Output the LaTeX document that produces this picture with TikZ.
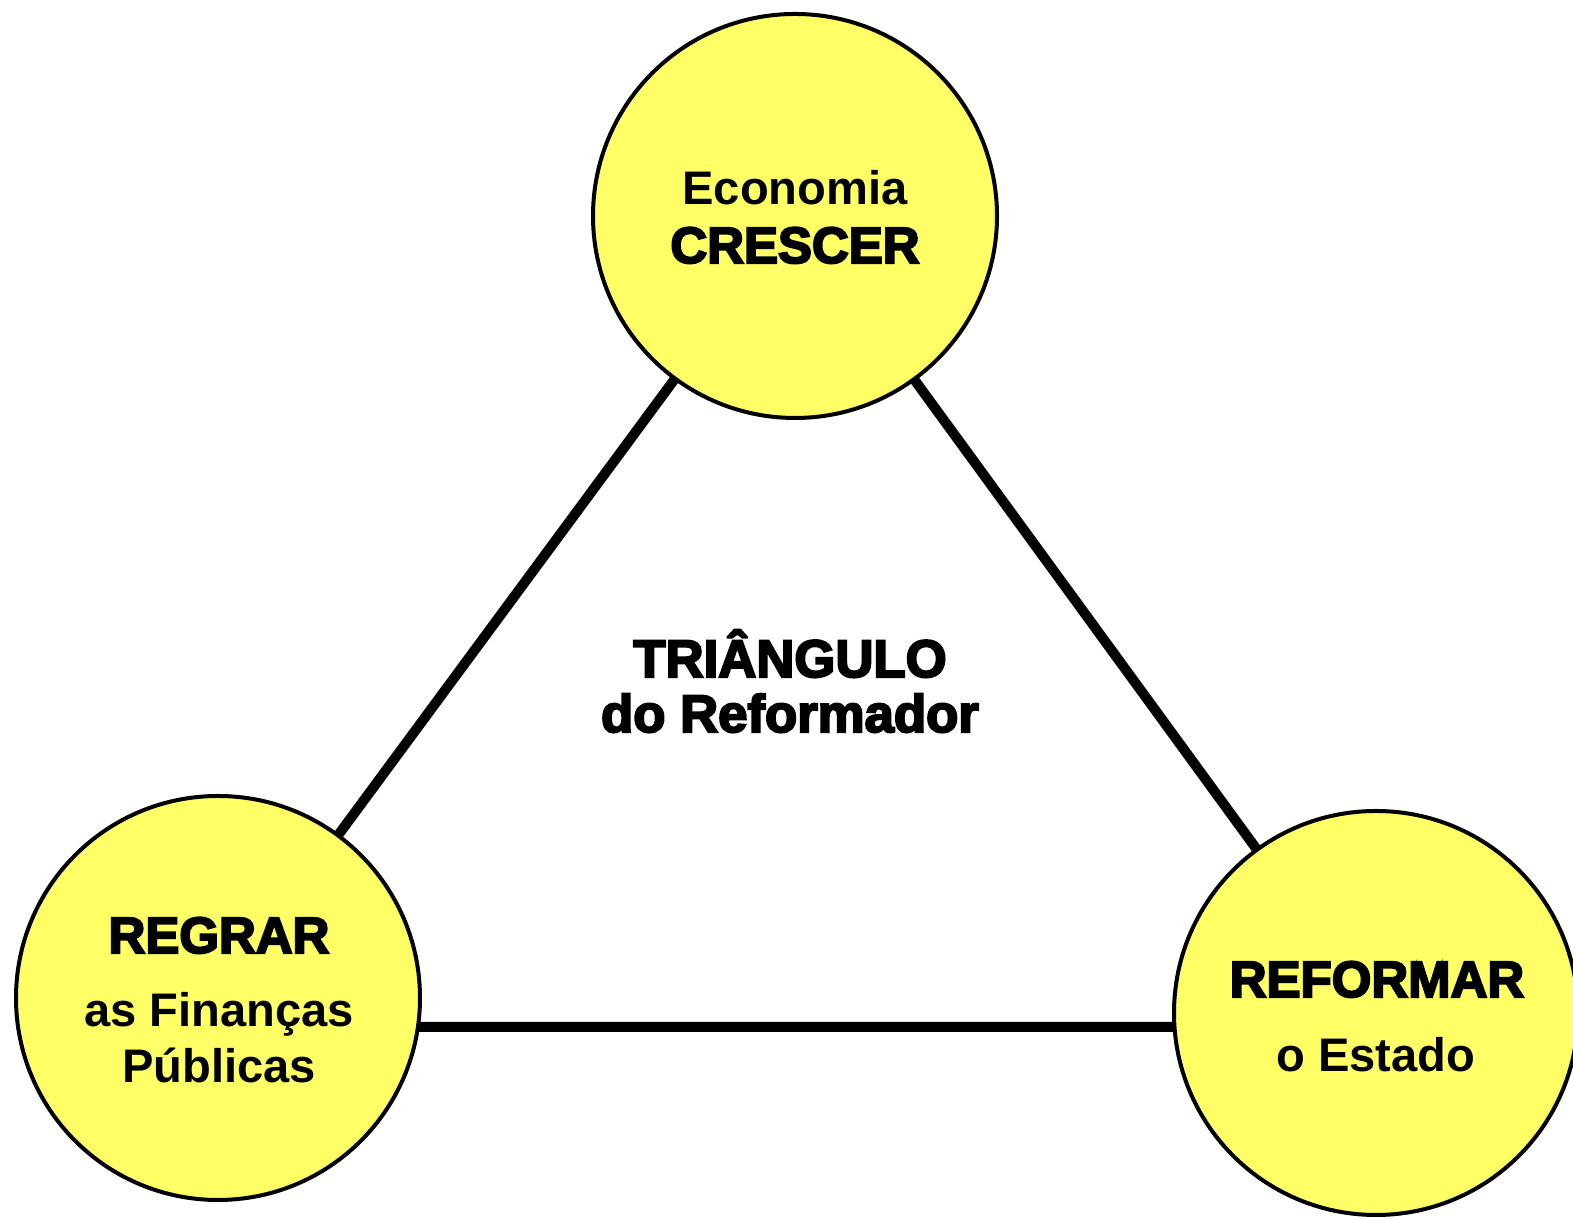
\documentclass[tikz,border=0pt]{standalone}
\usepackage{fontspec}
\setmainfont{Liberation Sans}
\newfontfamily\heavyfont[FakeBold=4]{Liberation Sans Bold}
\usetikzlibrary{backgrounds}
\definecolor{pillyellow}{RGB}{255,255,102}

\begin{document}
\begin{tikzpicture}[
    pillar/.style={circle, draw, line width=0.04cm, fill=pillyellow, minimum size=4.04cm, inner sep=0pt},
    link/.style={line width=0.1cm},
    heavy/.style={anchor=base, font=\heavyfont\fontsize{14.5pt}{16pt}\selectfont},
    plain/.style={anchor=base, font=\bfseries\fontsize{13.4pt}{15pt}\selectfont}
]
    \useasboundingbox (0,0) rectangle (15.73,12.19);
    \clip (0,0) rectangle (15.73,12.19);

    % Pillars
    \node[pillar] (crescer) at (7.95,10.03) {};
    \node[pillar] (regrar) at (2.18,2.21) {};
    \node[pillar] (reformar) at (13.76,2.06) {};

    % Sides of the triangle
    \begin{scope}[on background layer]
        \draw[link] (crescer.center) -- (regrar.center);
        \draw[link] (crescer.center) -- (reformar.center);
        \draw[link] ([yshift=-0.29cm]regrar.center) -- ([yshift=-0.14cm]reformar.center);
    \end{scope}

    % Labels
    \node[plain] (economia) at (7.95,10.14) {Economia};
    \node[heavy] (crescerlbl) at (7.95,9.56) {CRESCER};

    \node[heavy, font=\heavyfont\fontsize{15pt}{17pt}\selectfont] (triangulo) at (7.90,5.42) {TRIÂNGULO};
    \node[heavy, font=\heavyfont\fontsize{15pt}{17pt}\selectfont] (reformador) at (7.90,4.87) {do Reformador};

    \node[heavy] (regrarlbl) at (2.19,2.66) {REGRAR};
    \node[plain] (financas) at (2.19,1.92) {as Finanças};
    \node[plain] (publicas) at (2.19,1.36) {Públicas};

    \node[heavy] (reformarlbl) at (13.77,2.22) {REFORMAR};
    \node[plain] (estado) at (13.76,1.47) {o Estado};
\end{tikzpicture}
\end{document}
